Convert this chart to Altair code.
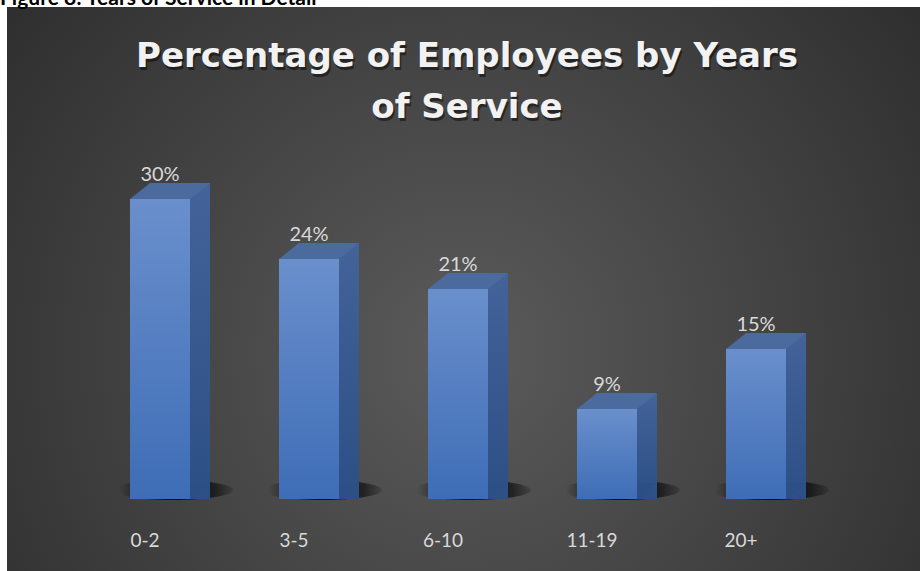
import altair as alt
import pandas as pd

CATEGORIES = ["0-2", "3-5", "6-10", "11-19", "20+"]
PERCENTS = [30, 24, 21, 9, 15]
VALUE_LABELS = ["30%", "24%", "21%", "9%", "15%"]
TITLE_LINES = ["Percentage of Employees by Years", "of Service"]
CAPTION = "Figure 8: Years of Service in Detail"

df = pd.DataFrame({"cat": CATEGORIES, "pct": PERCENTS, "label": VALUE_LABELS})

X_SCALE = alt.Scale(type="band", domain=CATEGORIES, range=[85.5, 830.5],
                    paddingInner=0, paddingOuter=0)
Y_SCALE = alt.Scale(type="linear", domain=[0, 30], range=[499, 199], nice=False, zero=True)

x_enc = alt.X("cat:N", scale=X_SCALE, axis=None, sort=CATEGORIES)
y_enc = alt.Y("pct:Q", scale=Y_SCALE, axis=None, stack=None)
y_zero = alt.Y(datum=0, type="quantitative", scale=Y_SCALE, axis=None)

one = alt.Data(values=[{"k": 1}])

bg = alt.Chart(one).mark_rect(
    fill=alt.RadialGradient(
        gradient="radial",
        stops=[alt.GradientStop(color="#5b5b5b", offset=0),
               alt.GradientStop(color="#262626", offset=1)],
        x1=0.5, y1=0.57, r1=0, x2=0.5, y2=0.57, r2=0.75),
    strokeWidth=0,
).encode(x=alt.value(7), x2=alt.value(920), y=alt.value(7), y2=alt.value(571))

caption = alt.Chart(alt.Data(values=[{"t": CAPTION}])).mark_text(
    align="left", baseline="alphabetic", font="Lato", fontWeight="bold",
    fontSize=21, color="black",
).encode(x=alt.value(0), y=alt.value(5), text="t:N")

title_kw = dict(text=TITLE_LINES, align="center", baseline="alphabetic",
                font="DejaVu Sans", fontWeight="bold", fontSize=34, lineHeight=51)
title_shadow = alt.Chart(one).mark_text(color="black", opacity=0.45, dx=1.5, dy=2.5, **title_kw).encode(
    x=alt.value(467), y=alt.value(67))
title = alt.Chart(one).mark_text(color="#f2f2f2", **title_kw).encode(
    x=alt.value(467), y=alt.value(67))

shadow = alt.Chart(df).mark_point(
    shape="M-6,0A6,1 0 1,0 6,0A6,1 0 1,0 -6,0Z", size=400, filled=True,
    fill=alt.RadialGradient(
        gradient="radial",
        stops=[alt.GradientStop(color="rgba(0,0,0,0.9)", offset=0),
               alt.GradientStop(color="rgba(0,0,0,0.55)", offset=0.6),
               alt.GradientStop(color="rgba(0,0,0,0)", offset=1)],
        x1=0.55, y1=0.5, r1=0, x2=0.55, y2=0.5, r2=0.5),
    strokeWidth=0, opacity=1, xOffset=13, yOffset=-9,
).encode(x=x_enc, y=y_zero)

side = alt.Chart(df).mark_bar(
    width=20, xOffset=40, yOffset=-16, y2Offset=-16, strokeWidth=0,
    fill=alt.LinearGradient(
        gradient="linear",
        stops=[alt.GradientStop(color="#43639a", offset=0),
               alt.GradientStop(color="#2c4f85", offset=1)],
        x1=0, y1=0, x2=0, y2=1),
).encode(x=x_enc, y=y_enc)

tri = alt.Chart(df).mark_point(
    shape="M3,-1.6L5,-1.6L3,0Z", size=400, filled=True, fill="#2c4f85",
    strokeWidth=0, opacity=1,
).encode(x=x_enc, y=y_zero)

front = alt.Chart(df).mark_bar(
    width=60, strokeWidth=0,
    fill=alt.LinearGradient(
        gradient="linear",
        stops=[alt.GradientStop(color="#6a8fcc", offset=0),
               alt.GradientStop(color="#3e6db6", offset=1)],
        x1=0, y1=0, x2=0, y2=1),
).encode(x=x_enc, y=y_enc)

top = alt.Chart(df).mark_point(
    shape="M-3,0L-1,-1.6L5,-1.6L3,0Z", size=400, filled=True, fill="#4b6b9f",
    strokeWidth=0, opacity=1,
).encode(x=x_enc, y=y_enc)

vlabels = alt.Chart(df).mark_text(
    dy=-18, align="center", baseline="alphabetic", font="Lato", fontSize=20,
    color="#d9d9d9",
).encode(x=x_enc, y=y_enc, text="label:N")

clabels = alt.Chart(df).mark_text(
    xOffset=-15, align="center", baseline="alphabetic", font="Lato", fontSize=19,
    color="#d9d9d9",
).encode(x=x_enc, y=alt.value(547), text="cat:N")

chart = alt.layer(
    bg, caption, title_shadow, title, shadow, side, tri, front, top, vlabels, clabels
).properties(
    width=920, height=571, padding=0, background="white",
    autosize=alt.AutoSizeParams(type="none"),
).configure_view(strokeWidth=0)

chart.save("out.html", embed_options={"renderer": "svg", "actions": False})
